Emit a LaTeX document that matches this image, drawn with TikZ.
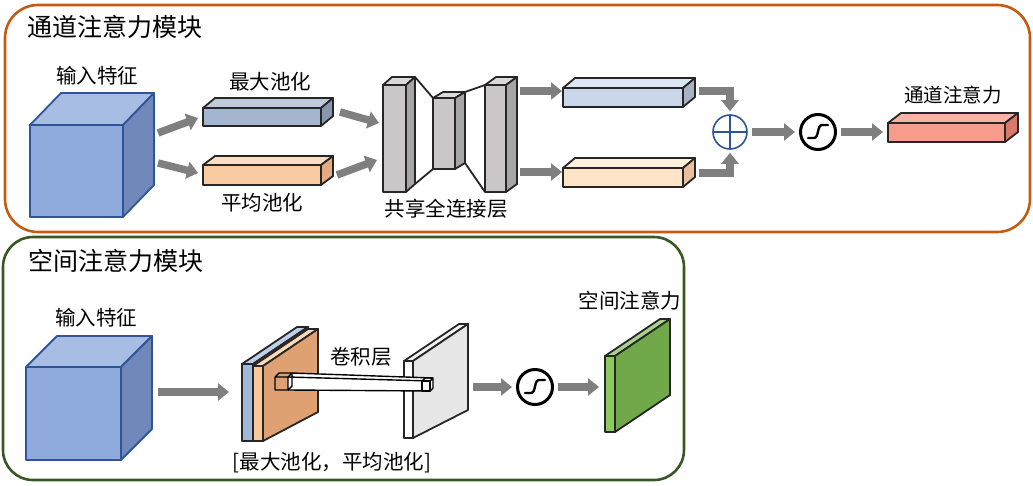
\documentclass[tikz,border=0pt]{standalone}
\usepackage{fontspec}
\setmainfont{Noto Sans CJK SC}
\usetikzlibrary{arrows.meta,positioning}

\definecolor{frameorange}{HTML}{C55A11}
\definecolor{framegreen}{HTML}{385723}
\definecolor{arrowgray}{HTML}{7F7F7F}
\definecolor{edgegray}{HTML}{262626}
\definecolor{plusblue}{HTML}{2F5597}
\definecolor{cubeline}{HTML}{2F5597}
\definecolor{cubeF}{HTML}{8FAADC}
\definecolor{cubeT}{HTML}{A8BDE4}
\definecolor{cubeS}{HTML}{7088BA}
\definecolor{maxF}{HTML}{A4B5CF}
\definecolor{maxT}{HTML}{BFCBDD}
\definecolor{maxS}{HTML}{8797AE}
\definecolor{avgF}{HTML}{F9CBA2}
\definecolor{avgT}{HTML}{FCDDC2}
\definecolor{avgS}{HTML}{E6A982}
\definecolor{fcF}{HTML}{C9C7C7}
\definecolor{fcT}{HTML}{DADADA}
\definecolor{fcS}{HTML}{A6A6A6}
\definecolor{mxrF}{HTML}{CAD7EA}
\definecolor{mxrT}{HTML}{DCE5F2}
\definecolor{mxrS}{HTML}{A6B3C4}
\definecolor{avrF}{HTML}{FEE5C8}
\definecolor{avrT}{HTML}{FFF0DE}
\definecolor{avrS}{HTML}{EBBE9E}
\definecolor{outF}{HTML}{F79B8B}
\definecolor{outT}{HTML}{F9B3A6}
\definecolor{outS}{HTML}{D97A6D}
\definecolor{pblueF}{HTML}{A2B8D8}
\definecolor{pblueT}{HTML}{BDD0EA}
\definecolor{porangeF}{HTML}{F9C89C}
\definecolor{porangeT}{HTML}{FBDAB8}
\definecolor{porangeS}{HTML}{E0A172}
\definecolor{pwhiteT}{HTML}{F2F2F2}
\definecolor{pwhiteS}{HTML}{E6E6E6}
\definecolor{pgreenF}{HTML}{8DC95F}
\definecolor{pgreenT}{HTML}{A9D18E}
\definecolor{pgreenS}{HTML}{70A84A}

\tikzset{
  boxedge/.style={draw=edgegray, line width=1.8pt, line join=round},
  frame/.style={line width=2.6pt},
  garrow/.style={draw=arrowgray, line width=7.5pt, -{Triangle[length=11pt,width=17pt]}},
  ttl/.style={inner sep=0pt, anchor=west, font=\fontsize{25}{27}\selectfont},
  lbl/.style={inner sep=0pt, font=\fontsize{20.5}{22}\selectfont},
  sgnode/.style={circle, draw=black, line width=3pt, minimum size=35pt, inner sep=0pt},
  plusnode/.style={circle, draw=plusblue, line width=1.6pt, minimum size=34pt, inner sep=0pt,
    path picture={\draw[plusblue, line width=1.6pt]
      (path picture bounding box.north) -- (path picture bounding box.south)
      (path picture bounding box.west) -- (path picture bounding box.east);}},
  sline/.style={line width=2.4pt, line cap=round}
}

% x y w h dx dy front top side
\newcommand{\cuboid}[9]{%
  \filldraw[boxedge, fill=#7] (#1,#2) rectangle (#1+#3,#2+#4);
  \filldraw[boxedge, fill=#8] (#1,#2) -- (#1+#5,#2-#6) -- (#1+#3+#5,#2-#6) -- (#1+#3,#2) -- cycle;
  \filldraw[boxedge, fill=#9] (#1+#3,#2) -- (#1+#3+#5,#2-#6) -- (#1+#3+#5,#2+#4-#6) -- (#1+#3,#2+#4) -- cycle;
}
% x y w h rise front top side
\newcommand{\slab}[8]{%
  \filldraw[boxedge, fill=#6] (#1,#2) rectangle (#1+#3,#2+#4);
  \filldraw[boxedge, fill=#7] (#1,#2) -- (#1+55,#2-37) -- (#1+#3+55,#2-37) -- (#1+#3,#2) -- cycle;
  \filldraw[boxedge, fill=#8] (#1+#3,#2) -- (#1+#3+55,#2-37) -- (#1+#3+55,#2+#4-#5) -- (#1+#3,#2+#4) -- cycle;
}
\newcommand{\sshape}[1]{%
  \draw[sline] ([xshift=-10pt,yshift=-6pt]#1.center) -- ([xshift=-4pt,yshift=-6pt]#1.center)
    .. controls ([xshift=1pt,yshift=-6pt]#1.center) and ([xshift=-1pt,yshift=7pt]#1.center)
    .. ([xshift=4pt,yshift=7pt]#1.center) -- ([xshift=10pt,yshift=7pt]#1.center);
}

\begin{document}
\begin{tikzpicture}[x=1pt, y=-1pt]
  \useasboundingbox (0,0) rectangle (1033,485);

  % frames
  \draw[frame, draw=frameorange, rounded corners=33pt] (5,5) rectangle (1030,232);
  \draw[frame, draw=framegreen, rounded corners=30pt] (3,237) rectangle (684,480);
  \node[ttl] (chanTitle) at (27,27) {通道注意力模块};
  \node[ttl] (spatTitle) at (28,261) {空间注意力模块};

  % channel attention
  \begin{scope}[boxedge/.style={draw=cubeline, line width=1.8pt, line join=round}]
    \cuboid{30}{125}{93}{92}{31}{32}{cubeF}{cubeT}{cubeS}
  \end{scope}
  \node[lbl] (chanIn) at (97,76) {输入特征};

  \cuboid{203}{108}{118}{18}{12}{10}{maxF}{maxT}{maxS}
  \cuboid{203}{165}{118}{20}{12}{9}{avgF}{avgT}{avgS}
  \node[lbl] (maxLbl) at (270,82) {最大池化};
  \node[lbl] (avgLbl) at (262,203) {平均池化};

  \coordinate (c1s) at (158,133); \coordinate (c1e) at (198,118);
  \coordinate (c2s) at (158,163); \coordinate (c2e) at (198,173);
  \coordinate (c3s) at (340,112); \coordinate (c3e) at (379,123);
  \coordinate (c4s) at (337,175); \coordinate (c4e) at (377,160);
  \draw[garrow] (c1s) -- (c1e);
  \draw[garrow] (c2s) -- (c2e);
  \draw[garrow] (c3s) -- (c3e);
  \draw[garrow] (c4s) -- (c4e);

  % shared fc
  \draw[boxedge] (415,77) -- (433,98) (415,184) -- (433,169);
  \draw[boxedge] (465,92) -- (485,85) (465,163) -- (485,192);
  \cuboid{383}{85}{23}{107}{9}{8}{fcF}{fcT}{fcS}
  \cuboid{433}{98}{22}{71}{10}{6}{fcF}{fcT}{fcS}
  \cuboid{485}{85}{21}{107}{11}{8}{fcF}{fcT}{fcS}
  \node[lbl] (fcLbl) at (446,209) {共享全连接层};

  \coordinate (f1s) at (520,91); \coordinate (f1e) at (562,91);
  \coordinate (f2s) at (520,172); \coordinate (f2e) at (562,172);
  \draw[garrow] (f1s) -- (f1e);
  \draw[garrow] (f2s) -- (f2e);

  \cuboid{563}{88}{120}{19}{12}{10}{mxrF}{mxrT}{mxrS}
  \cuboid{563}{168}{120}{19}{12}{10}{avrF}{avrT}{avrS}

  \node[plusnode] (plus) at (730,132) {};
  \node[sgnode] (sg1) at (818,132) {};
  \sshape{sg1}
  \coordinate (m1) at (699,91);
  \coordinate (m2) at (699,173);
  \draw[garrow, shorten >=3pt] (m1) -| (plus);
  \draw[garrow, shorten >=3pt] (m2) -| (plus);
  \draw[garrow, shorten <=4pt, shorten >=4pt] (plus) -- (sg1);
  \coordinate (outIn) at (883,132);
  \draw[garrow, shorten <=4pt] (sg1) -- (outIn);

  \cuboid{888}{123}{117}{19}{13}{10}{outF}{outT}{outS}
  \node[lbl, font=\fontsize{19.5}{21}\selectfont] (chanOut) at (953,95) {通道注意力};

  % spatial attention
  \begin{scope}[boxedge/.style={draw=cubeline, line width=1.8pt, line join=round}]
    \cuboid{26}{367}{95}{93}{31}{31}{cubeF}{cubeT}{cubeS}
  \end{scope}
  \node[lbl] (spatIn) at (96,318) {输入特征};
  \coordinate (s1s) at (158,392); \coordinate (s1e) at (229,392);
  \draw[garrow] (s1s) -- (s1e);

  \slab{242}{364}{11}{77}{29}{pblueF}{pblueT}{pblueF}
  \slab{253}{366}{10}{75}{29}{porangeF}{porangeT}{porangeS}
  \slab{404}{361}{9}{77}{28}{white}{pwhiteT}{pwhiteS}

  % conv kernel beam
  \fill[white] (288,377) -- (292,373) -- (433,378) -- (433,388) -- (430,391) -- (288,390) -- cycle;
  \draw[boxedge, draw=black, line width=1.4pt] (288,377) -- (430,381) (292,373) -- (433,378) (288,390) -- (430,391);
  \draw[boxedge, draw=black, line width=1.4pt] (275,377) rectangle (288,390)
    (275,377) -- (279,373) -- (292,373) -- (288,377) (292,373) -- (292,386) -- (288,390);
  \filldraw[boxedge, draw=black, fill=white, line width=1.4pt] (422,381) rectangle (430,391);
  \draw[boxedge, draw=black, line width=1.4pt] (422,381) -- (425,378) -- (433,378) -- (430,381)
    (433,378) -- (433,388) -- (430,391);
  \node[lbl] (convLbl) at (361,357) {卷积层};
  \node[lbl] (poolLbl) at (332,463) {[最大池化，平均池化]};

  \node[sgnode] (sg2) at (535,387) {};
  \sshape{sg2}
  \coordinate (s2s) at (473,387);
  \coordinate (s3e) at (599,387);
  \draw[garrow, shorten >=4pt] (s2s) -- (sg2);
  \draw[garrow, shorten <=4pt] (sg2) -- (s3e);

  \slab{605}{356}{10}{76}{37}{pgreenF}{pgreenT}{pgreenS}
  \node[lbl] (spatOut) at (630,301) {空间注意力};
\end{tikzpicture}
\end{document}
